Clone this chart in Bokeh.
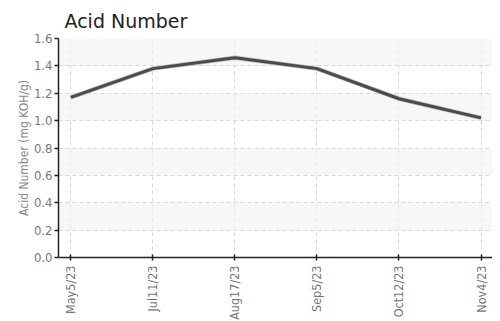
from bokeh.plotting import figure
from bokeh.models import FixedTicker, Range1d
from bokeh.embed import file_html
from bokeh.resources import INLINE
import math

dates = ["May5/23", "Jul11/23", "Aug17/23", "Sep5/23", "Oct12/23", "Nov4/23"]
acid_number = [1.17, 1.38, 1.46, 1.38, 1.16, 1.02]
y_ticks = [0.0, 0.2, 0.4, 0.6, 0.8, 1.0, 1.2, 1.4, 1.6]

xs = list(range(len(dates)))

p = figure(output_backend="svg", toolbar_location=None,
           frame_width=434, frame_height=219,
           min_border_left=58, min_border_right=0, min_border_top=35, min_border_bottom=55,
           x_range=Range1d(-0.15, len(dates) - 1 + 0.14), y_range=Range1d(0, 1.6),
           title="Acid Number")
p.title.text_font = "DejaVu Sans"
p.title.text_font_size = "19px"
p.title.text_font_style = "normal"
p.title.text_color = "#222222"
p.title.offset = 6
p.title.standoff = 14
p.outline_line_color = None

p.line(xs, acid_number, line_color="#bdbdbd", line_width=4.5)
p.line(xs, acid_number, line_color="#4a4a4a", line_width=3)

font = "DejaVu Sans Condensed"
p.xaxis.ticker = FixedTicker(ticks=xs)
p.xaxis.major_label_overrides = {i: d for i, d in enumerate(dates)}
p.xaxis.major_label_orientation = math.pi / 2
p.yaxis.ticker = FixedTicker(ticks=y_ticks)
p.yaxis.major_label_overrides = {t: f"{t:.1f}" for t in y_ticks}
p.yaxis.axis_label = "Acid Number (mg KOH/g)"
for ax in (p.xaxis, p.yaxis):
    ax.major_label_text_font = font
    ax.major_label_text_font_size = "13px"
    ax.major_label_text_color = "#777777"
    ax.axis_line_color = "#222222"
    ax.axis_line_width = 1.5
    ax.major_tick_line_color = "#222222"
    ax.major_tick_line_width = 1.5
    ax.minor_tick_line_color = None
p.xaxis.major_label_text_font_size = "12.5px"
p.xaxis.major_tick_in = 3
p.xaxis.major_tick_out = 3
p.yaxis.major_tick_in = 0
p.yaxis.major_tick_out = 4
p.yaxis.major_label_standoff = 2
p.yaxis.axis_label_text_font = font
p.yaxis.axis_label_text_font_size = "12px"
p.yaxis.axis_label_text_font_style = "normal"
p.yaxis.axis_label_text_color = "#888888"
p.yaxis.axis_label_standoff = 0

for g in (p.xgrid, p.ygrid):
    g.grid_line_color = "#d8d8d8"
    g.grid_line_dash = "4 3"
    g.grid_line_width = 1
p.ygrid.band_fill_color = "#f2f2f2"
p.ygrid.band_fill_alpha = 0.6

open("out.html", "w").write(file_html(p, INLINE))
